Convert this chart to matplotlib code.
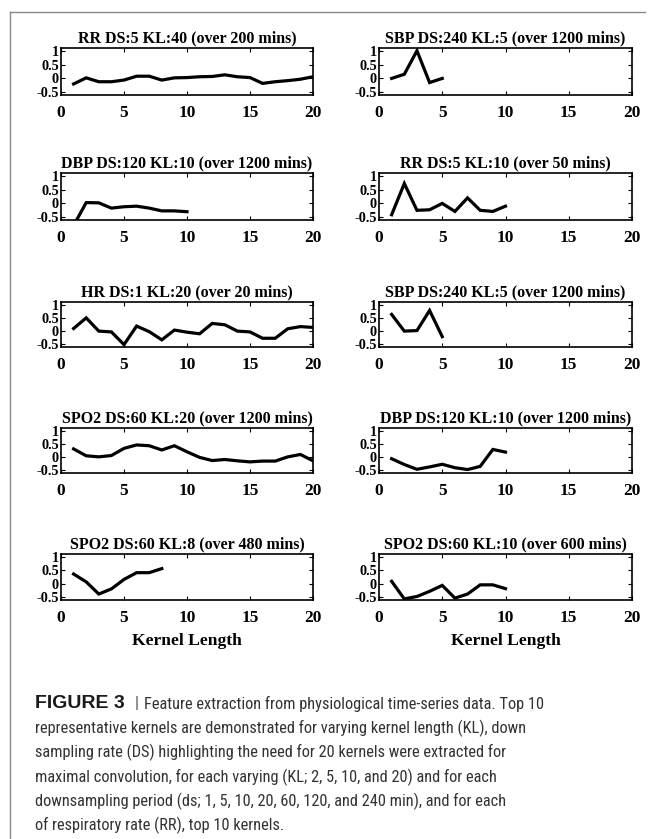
import matplotlib
matplotlib.use("Agg")
import matplotlib.pyplot as plt
from matplotlib.lines import Line2D
from matplotlib import font_manager

titles = [
    "RR DS:5 KL:40 (over 200 mins)",
    "SBP DS:240 KL:5 (over 1200 mins)",
    "DBP DS:120 KL:10 (over 1200 mins)",
    "RR DS:5 KL:10 (over 50 mins)",
    "HR DS:1 KL:20 (over 20 mins)",
    "SBP DS:240 KL:5 (over 1200 mins)",
    "SPO2 DS:60 KL:20 (over 1200 mins)",
    "DBP DS:120 KL:10 (over 1200 mins)",
    "SPO2 DS:60 KL:8 (over 480 mins)",
    "SPO2 DS:60 KL:10 (over 600 mins)",
]

rr_ds5_kl40 = [-0.20, 0.02, -0.12, -0.12, -0.06, 0.08, 0.08, -0.06, 0.02, 0.03,
               0.06, 0.07, 0.13, 0.06, 0.03, -0.18, -0.12, -0.08, -0.03, 0.06]
sbp_ds240_kl5_a = [0.00, 0.15, 1.00, -0.15, 0.00]
dbp_ds120_kl10_a = [-0.80, 0.03, 0.02, -0.17, -0.12, -0.10, -0.17, -0.27, -0.27, -0.30]
rr_ds5_kl10 = [-0.41, 0.72, -0.25, -0.23, 0.00, -0.29, 0.20, -0.25, -0.29, -0.10]
hr_ds1_kl20 = [0.10, 0.50, 0.00, -0.03, -0.51, 0.19, -0.02, -0.33, 0.04, -0.04,
               -0.10, 0.29, 0.24, 0.00, -0.03, -0.27, -0.27, 0.09, 0.17, 0.14]
sbp_ds240_kl5_b = [0.63, 0.00, 0.02, 0.78, -0.21]
spo2_ds60_kl20 = [0.31, 0.05, 0.01, 0.06, 0.33, 0.46, 0.43, 0.27, 0.43, 0.20,
                  -0.01, -0.13, -0.09, -0.14, -0.18, -0.15, -0.15, 0.01, 0.10, -0.14]
dbp_ds120_kl10_b = [-0.06, -0.28, -0.46, -0.37, -0.27, -0.40, -0.47, -0.35, 0.29, 0.19]
spo2_ds60_kl8 = [0.36, 0.07, -0.38, -0.19, 0.16, 0.41, 0.41, 0.56]
spo2_ds60_kl10 = [0.09, -0.56, -0.47, -0.28, -0.06, -0.53, -0.38, -0.04, -0.04, -0.18]

series = [rr_ds5_kl40, sbp_ds240_kl5_a, dbp_ds120_kl10_a, rr_ds5_kl10, hr_ds1_kl20,
          sbp_ds240_kl5_b, spo2_ds60_kl20, dbp_ds120_kl10_b, spo2_ds60_kl8, spo2_ds60_kl10]

xticks = [0, 5, 10, 15, 20]
yticks = [-0.5, 0, 0.5, 1]
yticklabels = ["-0.5", "0", "0.5", "1"]
xlabel = "Kernel Length"
caption_bold = "FIGURE 3"
caption_bar = "|"
caption_lines = [
    "Feature extraction from physiological time-series data. Top 10",
    "representative kernels are demonstrated for varying kernel length (KL), down",
    "sampling rate (DS) highlighting the need for 20 kernels were extracted for",
    "maximal convolution, for each varying (KL; 2, 5, 10, and 20) and for each",
    "downsampling period (ds; 1, 5, 10, 20, 60, 120, and 240 min), and for each",
    "of respiratory rate (RR), top 10 kernels.",
]

W, H = 651, 839
fig = plt.figure(figsize=(W / 100, H / 100), dpi=100)
serif = "Liberation Serif"

col_px = [(61, 313), (379, 632)]
row_px = [(48, 95), (173, 220), (302, 347), (428, 473), (554, 600)]

for i, (title, vals) in enumerate(zip(titles, series)):
    r, c = divmod(i, 2)
    x0, x1 = col_px[c]
    y0, y1 = row_px[r]
    ax = fig.add_axes([x0 / W, 1 - y1 / H, (x1 - x0) / W, (y1 - y0) / H])
    xs = list(range(1, len(vals) + 1))
    ax.plot(xs, vals, color="black", lw=2.3, solid_joinstyle="miter")
    ax.set_xlim(0, 20)
    ax.set_ylim(-0.6, 1.1)
    ax.set_xticks(xticks)
    ax.set_yticks(yticks)
    ax.set_yticklabels(yticklabels)
    ax.tick_params(direction="in", top=True, right=True, length=3, width=0.8)
    ax.tick_params(axis="x", pad=7, labelsize=12.5)
    ax.tick_params(axis="y", pad=1.5, labelsize=10.3)
    for lab in ax.get_xticklabels() + ax.get_yticklabels():
        lab.set_fontfamily(serif)
        lab.set_fontweight("bold")
    for s in ax.spines.values():
        s.set_linewidth(1.2)
    ax.set_title(title, fontfamily=serif, fontweight="bold", fontsize=11.5, pad=4)
    if r == 4:
        ax.set_xlabel(xlabel, fontfamily=serif, fontweight="bold", fontsize=12.6, labelpad=5)

# frame lines
fig.add_artist(Line2D([9.5 / W, 9.5 / W], [0, 1 - 11.5 / H], color="#8a8a8a", lw=1.0,
                      transform=fig.transFigure))
fig.add_artist(Line2D([9.5 / W, 645 / W], [1 - 11.5 / H, 1 - 11.5 / H], color="#8a8a8a",
                      lw=1.0, transform=fig.transFigure))

# caption font: prefer a narrow sans if present
body_font = "Liberation Sans"
narrow = False
for cand in ["Liberation Sans Narrow", "Roboto Condensed", "DejaVu Sans Condensed"]:
    try:
        font_manager.findfont(cand, fallback_to_default=False)
        body_font = cand
        narrow = True
        break
    except Exception:
        pass

line_y = [703.5, 728, 752.5, 777, 801, 825]
renderer = fig.canvas.get_renderer()

fig.text(35 / W, 1 - line_y[0] / H, caption_bold, fontfamily="Liberation Sans",
         fontweight="bold", fontsize=14, va="center", ha="left", color="#1a1a1a")

probe = fig.text(0, 0, caption_lines[1], fontfamily=body_font, fontsize=12)
w2 = probe.get_window_extent(renderer).width
probe.remove()
if narrow:
    body_fs = 12 * 493 / w2
else:
    body_fs = 12 * 535 / w2

fig.text(137 / W, 1 - line_y[0] / H, caption_bar, fontfamily=body_font,
         fontsize=body_fs, va="center", ha="center", color="#555555")
fig.text(144 / W, 1 - line_y[0] / H, caption_lines[0], fontfamily=body_font,
         fontsize=body_fs, va="center", ha="left", color="#333333")
for k, line in enumerate(caption_lines[1:], start=1):
    fig.text(35 / W, 1 - line_y[k] / H, line, fontfamily=body_font, fontsize=body_fs,
             va="center", ha="left", color="#333333")

fig.savefig("out.png", dpi=100)
